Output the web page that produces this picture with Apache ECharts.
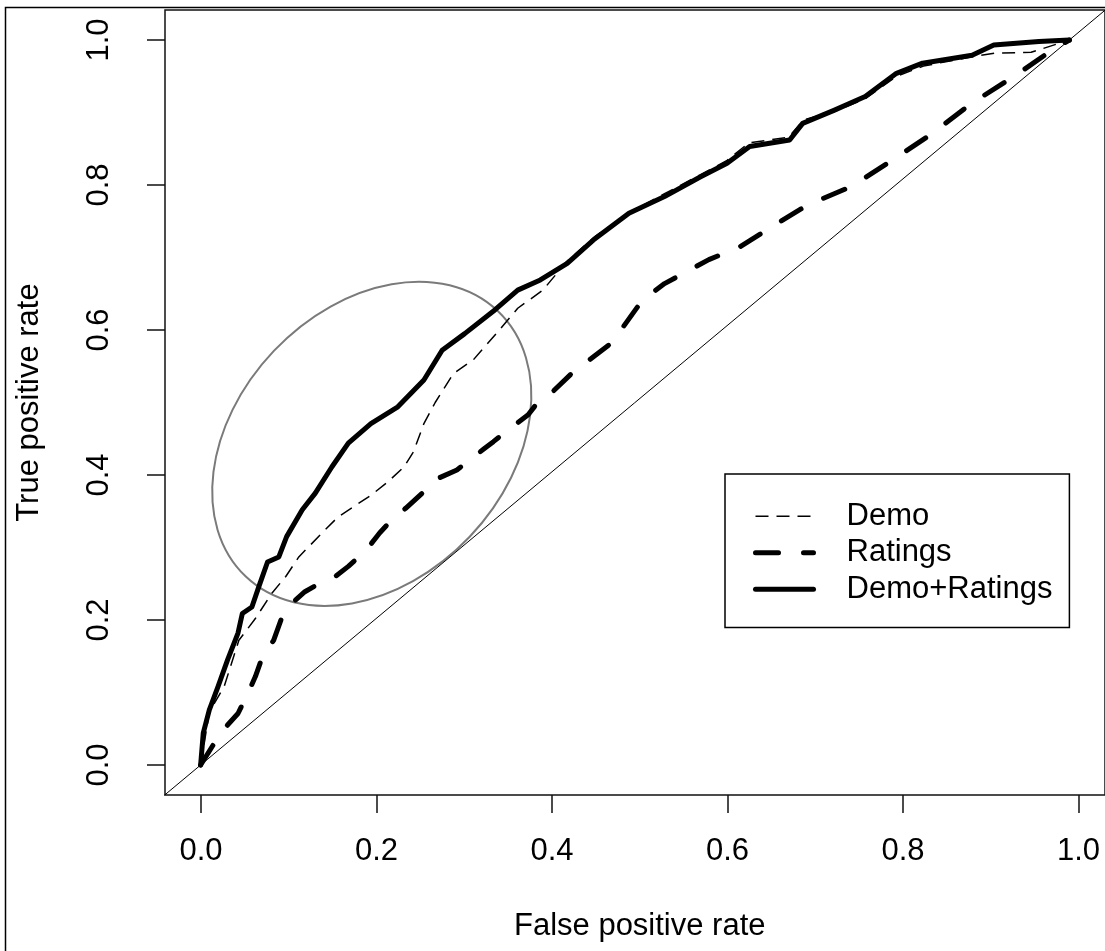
<!DOCTYPE html>
<html lang="en">
<head>
<meta charset="UTF-8">
<title>ROC curves</title>
<script src="https://cdn.jsdelivr.net/npm/echarts@6/dist/echarts.min.js"></script>
<style>
  html, body { margin: 0; background: #fff; }
  #chart { width: 1105px; height: 951px; }
</style>
</head>
<body>
<div id="chart"></div>
<script>
// ROC curves, values
var bothX = [0, 0.003, 0.010, 0.020, 0.031, 0.043, 0.048, 0.059, 0.067, 0.077, 0.090, 0.099, 0.117, 0.132, 0.151, 0.170, 0.196, 0.227, 0.257, 0.278, 0.304, 0.339, 0.365, 0.391, 0.422, 0.452, 0.493, 0.534, 0.575, 0.606, 0.632, 0.678, 0.693, 0.729, 0.765, 0.801, 0.831, 0.888, 0.913, 0.965, 1];
var bothY = [0, 0.044, 0.076, 0.108, 0.145, 0.182, 0.209, 0.218, 0.246, 0.280, 0.287, 0.315, 0.352, 0.375, 0.411, 0.444, 0.471, 0.494, 0.531, 0.572, 0.595, 0.628, 0.655, 0.669, 0.692, 0.724, 0.761, 0.784, 0.811, 0.830, 0.853, 0.862, 0.885, 0.903, 0.922, 0.954, 0.968, 0.979, 0.993, 0.998, 1];

var demoX = [0, 0.010, 0.027, 0.044, 0.063, 0.082, 0.098, 0.113, 0.143, 0.158, 0.196, 0.215, 0.234, 0.245, 0.257, 0.270, 0.291, 0.314, 0.341, 0.365, 0.394, 0.421, 0.455, 0.495, 0.534, 0.575, 0.606, 0.631, 0.677, 0.694, 0.729, 0.765, 0.801, 0.832, 0.888, 0.914, 0.956, 1];
var demoY = [0, 0.073, 0.108, 0.172, 0.202, 0.237, 0.260, 0.287, 0.324, 0.342, 0.372, 0.390, 0.411, 0.432, 0.471, 0.500, 0.540, 0.559, 0.596, 0.630, 0.655, 0.694, 0.730, 0.763, 0.788, 0.814, 0.834, 0.858, 0.866, 0.890, 0.901, 0.919, 0.950, 0.964, 0.977, 0.982, 0.983, 1];

var ratingsX = [0, 0.024, 0.043, 0.056, 0.063, 0.071, 0.084, 0.094, 0.105, 0.120, 0.136, 0.155, 0.170, 0.189, 0.206, 0.223, 0.236, 0.257, 0.269, 0.295, 0.307, 0.327, 0.337, 0.356, 0.377, 0.386, 0.401, 0.427, 0.473, 0.503, 0.514, 0.534, 0.585, 0.621, 0.657, 0.698, 0.749, 0.796, 0.842, 0.888, 0.939, 0.980, 1];
var ratingsY = [0, 0.046, 0.071, 0.103, 0.122, 0.149, 0.172, 0.205, 0.223, 0.239, 0.250, 0.260, 0.274, 0.294, 0.320, 0.342, 0.354, 0.377, 0.393, 0.407, 0.418, 0.437, 0.446, 0.464, 0.483, 0.497, 0.510, 0.540, 0.582, 0.632, 0.646, 0.664, 0.697, 0.715, 0.742, 0.772, 0.798, 0.834, 0.871, 0.913, 0.952, 0.986, 1];

var diagonal = [-0.2, 1.2];            // abline(0, 1)
var ellipseCenter = [0.197, 0.443];    // hand-drawn highlight

function pairs(xs, ys) {
    return xs.map(function (x, i) { return [x, ys[i]]; });
}

// pixel layout of the R plot region
var originX = 201, unitX = 877.5;   // x = 0 and length of 1 unit
var originY = 765, unitY = 725;     // y = 0
var boxLeft = 165, boxTop = 10, boxBottom = 795, boxRight = 1114.5;

var font = 'Liberation Sans, Arial, sans-serif';
var dashDemo = [13, 8];
var dashRatings = [23, 25];
var tickStyle = { length: 18, lineStyle: { color: '#111', width: 1.5 } };
var labelStyle = { fontSize: 31, color: '#000', fontFamily: font };

function fmt(v) { return v.toFixed(1); }

var chart = echarts.init(document.getElementById('chart'));

var option = {
    backgroundColor: '#fff',
    animation: false,
    graphic: [{
        type: 'rect',
        left: 3, top: 5,
        shape: { width: 1130, height: 980 },
        style: { fill: 'none', stroke: '#000', lineWidth: 1.5 },
        silent: true
    }],
    grid: [{
        // plot box, carries the data
        left: boxLeft, top: boxTop,
        width: boxRight - boxLeft, height: boxBottom - boxTop,
        show: true, borderColor: '#111', borderWidth: 1.5, backgroundColor: 'transparent'
    }, {
        // x ticks: 0..1 across, bottom edge on the box
        left: originX, top: boxTop,
        width: unitX, height: boxBottom - boxTop
    }, {
        // y ticks: 0..1 up, left edge on the box
        left: boxLeft, top: originY - unitY,
        width: boxRight - boxLeft, height: unitY
    }],
    xAxis: [{
        gridIndex: 0, type: 'value', show: false,
        min: (boxLeft - originX) / unitX,
        max: (boxRight - originX) / unitX
    }, {
        gridIndex: 1, type: 'value', min: 0, max: 1, interval: 0.2,
        position: 'bottom',
        axisLine: { show: false },
        axisTick: tickStyle,
        splitLine: { show: false },
        axisLabel: Object.assign({ margin: 41, formatter: fmt }, labelStyle),
        name: 'False positive rate', nameLocation: 'middle', nameGap: 116,
        nameTextStyle: labelStyle
    }, {
        gridIndex: 2, type: 'value', show: false, min: 0, max: 1
    }],
    yAxis: [{
        gridIndex: 0, type: 'value', show: false,
        min: (originY - boxBottom) / unitY,
        max: (originY - boxTop) / unitY
    }, {
        gridIndex: 1, type: 'value', show: false, min: 0, max: 1
    }, {
        gridIndex: 2, type: 'value', min: 0, max: 1, interval: 0.2,
        position: 'left',
        axisLine: { show: false },
        axisTick: tickStyle,
        splitLine: { show: false },
        axisLabel: Object.assign({ rotate: 90, margin: 50, formatter: fmt }, labelStyle),
        name: 'True positive rate', nameLocation: 'middle', nameGap: 120,
        nameTextStyle: labelStyle
    }],
    legend: {
        data: [
            { name: 'Demo', lineStyle: { type: dashDemo, width: 1.5, color: '#000', cap: 'butt' } },
            { name: 'Ratings', lineStyle: { type: dashRatings, width: 5, color: '#000', cap: 'round' } },
            { name: 'Demo+Ratings', lineStyle: { type: 'solid', width: 5, color: '#000', cap: 'round' } }
        ],
        orient: 'vertical', left: 725, top: 474,
        padding: [24, 17, 20, 28],
        itemWidth: 58, itemHeight: 14, itemGap: 0,
        borderColor: '#000', borderWidth: 1.5, borderRadius: 0,
        backgroundColor: '#fff',
        selectedMode: false,
        itemStyle: { opacity: 0 },
        textStyle: Object.assign({ lineHeight: 36.5, padding: [0, 0, 0, 28] }, labelStyle)
    },
    series: [{
        name: 'diagonal', type: 'line', xAxisIndex: 0, yAxisIndex: 0,
        data: pairs(diagonal, diagonal), symbol: 'none', silent: true,
        lineStyle: { color: '#000', width: 1 }
    }, {
        name: 'Demo', type: 'line', xAxisIndex: 0, yAxisIndex: 0,
        data: pairs(demoX, demoY), symbol: 'none',
        lineStyle: { color: '#000', width: 1.5, type: dashDemo }
    }, {
        name: 'Ratings', type: 'line', xAxisIndex: 0, yAxisIndex: 0,
        data: pairs(ratingsX, ratingsY), symbol: 'none',
        lineStyle: { color: '#000', width: 5, type: dashRatings, cap: 'round' }
    }, {
        name: 'Demo+Ratings', type: 'line', xAxisIndex: 0, yAxisIndex: 0,
        data: pairs(bothX, bothY), symbol: 'none',
        lineStyle: { color: '#000', width: 5, cap: 'round', join: 'round' }
    }, {
        name: 'highlight', type: 'custom', xAxisIndex: 0, yAxisIndex: 0,
        data: [ellipseCenter], silent: true, clip: false,
        renderItem: function (params, api) {
            var c = api.coord([api.value(0), api.value(1)]);
            return {
                type: 'ellipse',
                x: c[0], y: c[1],
                rotation: 46.5 * Math.PI / 180,
                shape: { cx: 0, cy: 0, rx: 183, ry: 135 },
                style: { fill: 'none', stroke: '#7a7a7a', lineWidth: 2 }
            };
        }
    }]
};

chart.setOption(option);
</script>
</body>
</html>
